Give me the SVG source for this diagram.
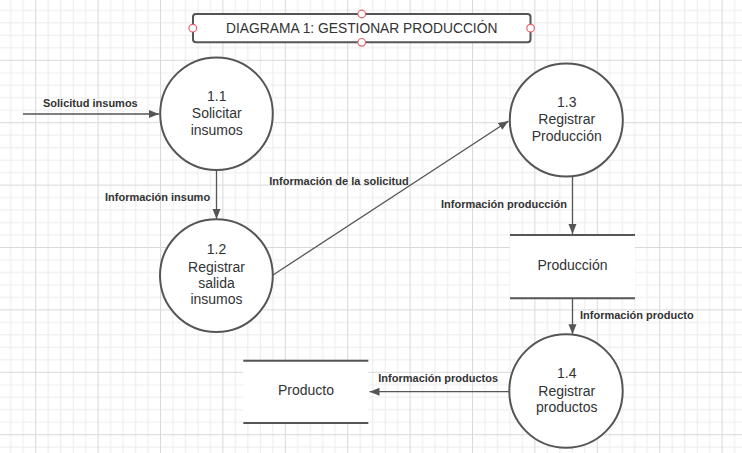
<svg xmlns="http://www.w3.org/2000/svg" width="742" height="453" viewBox="0 0 742 453">
<defs>
<pattern id="grid" patternUnits="userSpaceOnUse" x="-27.2" y="-2.6" width="62.4" height="62.4">
<rect x="0" y="0" width="62.4" height="62.4" fill="#ffffff"/>
<g fill="#ececec">
<rect x="12.48" y="0" width="1" height="62.4"/><rect x="24.96" y="0" width="1" height="62.4"/><rect x="37.44" y="0" width="1" height="62.4"/><rect x="49.92" y="0" width="1" height="62.4"/>
<rect x="0" y="12.48" width="62.4" height="1"/><rect x="0" y="24.96" width="62.4" height="1"/><rect x="0" y="37.44" width="62.4" height="1"/><rect x="0" y="49.92" width="62.4" height="1"/>
</g>
<g fill="#d9d9d9">
<rect x="0" y="0" width="1" height="62.4"/><rect x="0" y="0" width="62.4" height="1"/>
</g>
</pattern>
<marker id="arr" markerUnits="userSpaceOnUse" markerWidth="11" markerHeight="9" refX="10" refY="4" orient="auto">
<path d="M0,0 L10,4 L0,8 z" fill="#555555"/>
</marker>
<style>
.proc{fill:#ffffff;stroke:#555555;stroke-width:2}
.ntxt{font-family:"Liberation Sans",Arial,sans-serif;font-size:14px;fill:#333333;text-anchor:middle}
.lbl{font-family:"Liberation Sans",Arial,sans-serif;font-size:11px;font-weight:bold;fill:#333333}
.conn{stroke:#555555;stroke-width:1.3;fill:none;marker-end:url(#arr)}
.store{fill:#ffffff;stroke:none}
.sline{stroke:#555555;stroke-width:2}
.dot{fill:#ffffff;stroke:#e0606f;stroke-width:1.2}
</style>
</defs>
<rect x="0" y="0" width="742" height="453" fill="url(#grid)"/>

<g id="title">
<rect x="193" y="14" width="337.5" height="28.3" rx="3" fill="#ffffff" stroke="#555555" stroke-width="2"/>
<text x="361.7" y="33" class="ntxt" font-size="13.8" style="font-size:13.8px">DIAGRAMA 1: GESTIONAR PRODUCCIÓN</text>
<circle class="dot" cx="192.8" cy="28.2" r="3.8"/>
<circle class="dot" cx="530.6" cy="28.2" r="3.8"/>
<circle class="dot" cx="361.7" cy="14" r="3.8"/>
<circle class="dot" cx="361.7" cy="42.3" r="3.8"/>
</g>

<g id="connectors">
<path class="conn" d="M23,114 L159,114"/>
<path class="conn" d="M216.5,170 L216.5,219"/>
<path class="conn" d="M273,275 L508.5,121"/>
<path class="conn" d="M572.5,177 L572.5,234"/>
<path class="conn" d="M572.5,298.5 L572.5,334.3"/>
<path class="conn" d="M509.3,391.7 L369.5,391.7"/>
<text class="lbl" x="43" y="107">Solicitud insumos</text>
<text class="lbl" x="105" y="200.7">Información insumo</text>
<text class="lbl" x="269.3" y="184.7">Información de la solicitud</text>
<text class="lbl" x="441" y="208">Información producción</text>
<text class="lbl" x="580" y="319">Información producto</text>
<text class="lbl" x="378.3" y="382">Información productos</text>
</g>

<g id="p11">
<circle class="proc" cx="216.5" cy="113.7" r="56.3"/>
<text class="ntxt" x="216.7" y="101">1.1</text>
<text class="ntxt" x="216.7" y="118">Solicitar</text>
<text class="ntxt" x="216.7" y="135">insumos</text>
</g>

<g id="p12">
<circle class="proc" cx="216.4" cy="275.6" r="56.4"/>
<text class="ntxt" x="216.5" y="254.3">1.2</text>
<text class="ntxt" x="216.5" y="271.7">Registrar</text>
<text class="ntxt" x="216.5" y="287.7">salida</text>
<text class="ntxt" x="216.5" y="304">insumos</text>
</g>

<g id="p13">
<circle class="proc" cx="566.3" cy="120" r="56.5"/>
<text class="ntxt" x="566.7" y="106.7">1.3</text>
<text class="ntxt" x="566.7" y="124">Registrar</text>
<text class="ntxt" x="566.7" y="140.7">Producción</text>
</g>

<g id="p14">
<circle class="proc" cx="566" cy="391" r="56.7"/>
<text class="ntxt" x="566.7" y="378.3">1.4</text>
<text class="ntxt" x="566.7" y="395.7">Registrar</text>
<text class="ntxt" x="566.7" y="412.3">productos</text>
</g>

<g id="dsProduccion">
<rect class="store" x="510" y="235" width="125" height="63.3"/>
<line class="sline" x1="510" y1="235" x2="635" y2="235"/>
<line class="sline" x1="510" y1="298.3" x2="635" y2="298.3"/>
<text class="ntxt" x="572.5" y="270">Producción</text>
</g>

<g id="dsProducto">
<rect class="store" x="243.3" y="360.7" width="125" height="62.3"/>
<line class="sline" x1="243.3" y1="360.7" x2="368.3" y2="360.7"/>
<line class="sline" x1="243.3" y1="423" x2="368.3" y2="423"/>
<text class="ntxt" x="306" y="395">Producto</text>
</g>
</svg>
